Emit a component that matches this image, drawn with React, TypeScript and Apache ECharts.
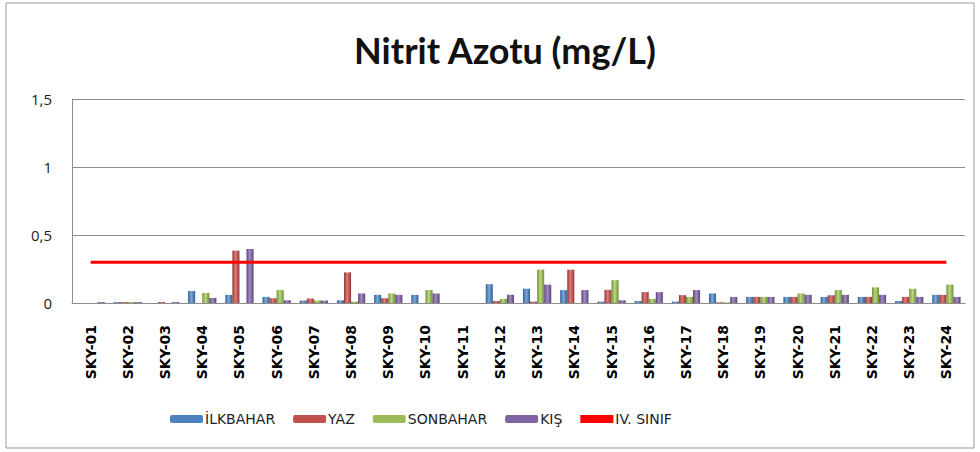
import React, { useEffect, useRef } from "react";
import * as echarts from "echarts";

const categories = [
  "SKY-01", "SKY-02", "SKY-03", "SKY-04", "SKY-05", "SKY-06", "SKY-07", "SKY-08",
  "SKY-09", "SKY-10", "SKY-11", "SKY-12", "SKY-13", "SKY-14", "SKY-15", "SKY-16",
  "SKY-17", "SKY-18", "SKY-19", "SKY-20", "SKY-21", "SKY-22", "SKY-23", "SKY-24",
];

const ilkbahar = [0, 0.007, 0, 0.088, 0.06, 0.045, 0.018, 0.02, 0.06, 0.06, 0, 0.138, 0.105, 0.095, 0.01, 0.015, 0.01, 0.07, 0.045, 0.045, 0.045, 0.045, 0.015, 0.06];
const yaz = [0, 0.007, 0.007, 0, 0.385, 0.035, 0.033, 0.225, 0.035, 0, 0, 0.015, 0.01, 0.245, 0.097, 0.08, 0.058, 0.005, 0.045, 0.045, 0.057, 0.045, 0.045, 0.06];
const sonbahar = [0, 0.007, 0, 0.074, 0, 0.095, 0.018, 0.01, 0.07, 0.095, 0, 0.03, 0.245, 0, 0.168, 0.03, 0.045, 0.005, 0.045, 0.07, 0.095, 0.115, 0.105, 0.135];
const kis = [0.007, 0.007, 0.007, 0.037, 0.397, 0.02, 0.018, 0.07, 0.06, 0.07, 0, 0.06, 0.135, 0.095, 0.02, 0.08, 0.095, 0.045, 0.045, 0.06, 0.06, 0.06, 0.045, 0.045];
const sinif = categories.map(() => 0.3);

const seriesNames = ["İLKBAHAR", "YAZ", "SONBAHAR", "KIŞ"];
const seriesData = [ilkbahar, yaz, sonbahar, kis];
const baseColors = ["#4F81BD", "#C0504D", "#9BBB59", "#8064A2"];
const darkColors = ["#2F5E94", "#933532", "#6F8F35", "#5A4378"];
const lightColors = ["#7FA8DA", "#DE7D7A", "#BCD882", "#A58BC4"];
const lineName = "IV. SINIF";

export default function App() {
  const ref = useRef<HTMLDivElement>(null);
  useEffect(() => {
    if (!ref.current) return;
    const chart = echarts.init(ref.current, undefined, { renderer: "svg" });
    const barSeries = seriesData.map((d, i) => ({
      name: seriesNames[i],
      type: "bar",
      data: d,
      barGap: "0%",
      barCategoryGap: "24%",
      itemStyle: {
        color: new echarts.graphic.LinearGradient(0, 0, 1, 0, [
          { offset: 0, color: darkColors[i] },
          { offset: 0.45, color: lightColors[i] },
          { offset: 1, color: darkColors[i] },
        ]),
      },
    }));
    chart.setOption({
      animation: false,
      backgroundColor: "#ffffff",
      textStyle: { fontFamily: "'DejaVu Sans', sans-serif" },
      title: {
        text: "Nitrit Azotu (mg/L)",
        left: 500,
        textAlign: "center",
        top: 27,
        textStyle: { fontSize: 36, fontWeight: "bold", color: "#111", fontFamily: "Lato, sans-serif" },
      },
      graphic: [
        {
          type: "rect",
          shape: { x: 6, y: 3, width: 968, height: 445 },
          style: { fill: "none", stroke: "#9a9a9a", lineWidth: 1 },
          silent: true,
        },
      ],
      legend: {
        left: 165,
        top: 407,
        itemWidth: 33,
        itemHeight: 8,
        itemGap: 18,
        textStyle: { fontSize: 14, color: "#222", padding: [0, 0, 0, -3], fontFamily: "'DejaVu Sans', sans-serif" },
        data: [
          ...seriesNames.map((n, i) => ({ name: n, itemStyle: { color: baseColors[i] } })),
          { name: lineName, icon: "rect", itemStyle: { color: "#FF0000" } },
        ],
      },
      grid: { left: 72, right: 15, top: 99, bottom: 149, containLabel: false },
      xAxis: {
        type: "category",
        data: categories,
        axisLine: { lineStyle: { color: "#8c8c8c", width: 1 } },
        axisTick: { show: false },
        axisLabel: { rotate: 90, fontSize: 14, fontWeight: "bold", color: "#000", margin: 22, fontFamily: "'DejaVu Sans', sans-serif" },
      },
      yAxis: {
        type: "value",
        min: 0,
        max: 1.5,
        interval: 0.5,
        axisLine: { show: true, lineStyle: { color: "#8c8c8c" } },
        axisTick: { show: false },
        splitLine: { lineStyle: { color: "#8c8c8c" } },
        axisLabel: {
          fontSize: 15,
          color: "#222",
          margin: 20,
          fontFamily: "'Open Sans', sans-serif",
          formatter: (v: number) => String(v).replace(".", ","),
        },
      },
      series: [
        ...barSeries,
        {
          name: lineName,
          type: "line",
          data: sinif,
          symbol: "none",
          lineStyle: { color: "#FF0000", width: 3 },
          itemStyle: { color: "#FF0000" },
          z: 5,
        },
      ],
    });
    return () => chart.dispose();
  }, []);
  return (
    <div style={{ position: "fixed", left: 0, top: 0, width: 980, height: 452, background: "#fff" }}>
      <div ref={ref} style={{ width: 980, height: 452 }} />
    </div>
  );
}
